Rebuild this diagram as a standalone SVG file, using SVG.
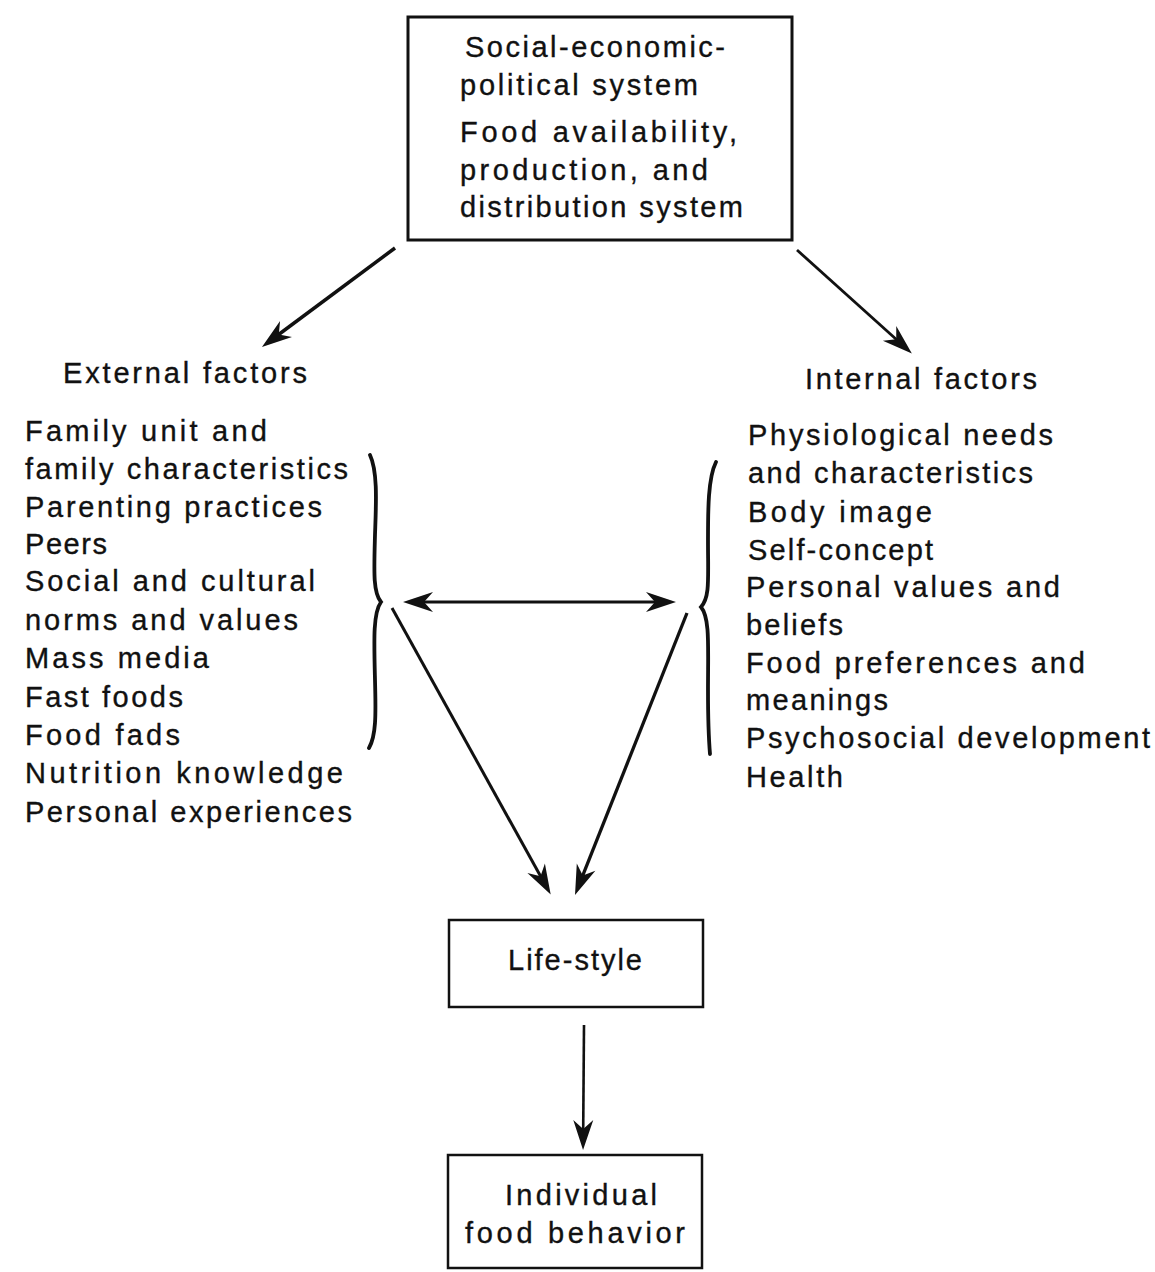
<svg xmlns="http://www.w3.org/2000/svg" width="1155" height="1272" viewBox="0 0 1155 1272">
<style>
text{font-family:"Liberation Sans",Arial,sans-serif;font-size:29px;fill:#111;stroke:#111;stroke-width:0.35;}
.box{fill:none;stroke:#111;stroke-width:2.5;}
.edge{fill:none;stroke:#111;stroke-width:3;}
.brace{fill:none;stroke:#111;stroke-width:3.8;stroke-linecap:round;}
</style>
<defs>
<marker id="ah" viewBox="-32 -12 34 24" refX="-20" refY="0" markerWidth="34" markerHeight="24" markerUnits="userSpaceOnUse" orient="auto-start-reverse">
<path d="M0,0 L-30,-10 L-21,0 L-30,10 Z" fill="#111"/>
</marker>
</defs>
<rect width="1155" height="1272" fill="#fff"/>

<g id="node-system">
<rect class="box" x="408" y="17" width="384" height="223" style="stroke-width:3"/>
<text x="465" y="57" textLength="260">Social-economic-</text>
<text x="460" y="95" textLength="238">political system</text>
<text x="460" y="142" textLength="277">Food availability,</text>
<text x="460" y="180" textLength="248">production, and</text>
<text x="460" y="217" textLength="283">distribution system</text>
</g>

<g id="node-external">
<text x="63" y="383" textLength="244">External factors</text>
<text x="25" y="441" textLength="242">Family unit and</text>
<text x="25" y="479" textLength="323">family characteristics</text>
<text x="25" y="517" textLength="297">Parenting practices</text>
<text x="25" y="554" textLength="82">Peers</text>
<text x="25" y="591" textLength="290">Social and cultural</text>
<text x="25" y="630" textLength="273">norms and values</text>
<text x="25" y="668" textLength="184">Mass media</text>
<text x="25" y="707" textLength="158">Fast foods</text>
<text x="25" y="745" textLength="155">Food fads</text>
<text x="25" y="783" textLength="318">Nutrition knowledge</text>
<text x="25" y="822" textLength="327">Personal experiences</text>
<path class="brace" d="M370,455 C378,472 376,505 375,535 C374,572 373,592 381,602 C373,613 374,640 375,680 C376,716 376,736 369,748"/>
</g>

<g id="node-internal">
<text x="805" y="389" textLength="232">Internal factors</text>
<text x="748" y="445" textLength="305">Physiological needs</text>
<text x="748" y="483" textLength="285">and characteristics</text>
<text x="748" y="522" textLength="184">Body image</text>
<text x="748" y="560" textLength="185">Self-concept</text>
<text x="746" y="597" textLength="314">Personal values and</text>
<text x="746" y="635" textLength="97">beliefs</text>
<text x="746" y="673" textLength="339">Food preferences and</text>
<text x="746" y="710" textLength="142">meanings</text>
<text x="746" y="748" textLength="404">Psychosocial development</text>
<text x="746" y="787" textLength="97">Health</text>
<path class="brace" d="M716,462 C708,478 708,510 708,540 C708,580 710,597 701,607 C710,618 708,645 708,690 C708,726 709,742 710,754"/>
</g>

<g id="node-lifestyle">
<rect class="box" x="449" y="920" width="254" height="87"/>
<text x="508" y="970" textLength="134">Life-style</text>
</g>

<g id="node-behavior">
<rect class="box" x="448" y="1155" width="254" height="113"/>
<text x="505" y="1205" textLength="152">Individual</text>
<text x="465" y="1243" textLength="220">food behavior</text>
</g>

<g id="connectors">
<line class="edge" x1="395" y1="248" x2="278" y2="335" marker-end="url(#ah)" style="stroke-width:3.5"/>
<line class="edge" x1="797" y1="250" x2="897" y2="340" marker-end="url(#ah)" style="stroke-width:2.8"/>
<line class="edge" x1="423" y1="602" x2="656" y2="602" marker-start="url(#ah)" marker-end="url(#ah)"/>
<line class="edge" x1="392" y1="608" x2="541" y2="877" marker-end="url(#ah)"/>
<line class="edge" x1="687" y1="613" x2="582.4" y2="876.4" marker-end="url(#ah)" style="stroke-width:3.3"/>
<line class="edge" x1="584" y1="1025" x2="583.2" y2="1130" marker-end="url(#ah)" style="stroke-width:2.6"/>
</g>
</svg>
